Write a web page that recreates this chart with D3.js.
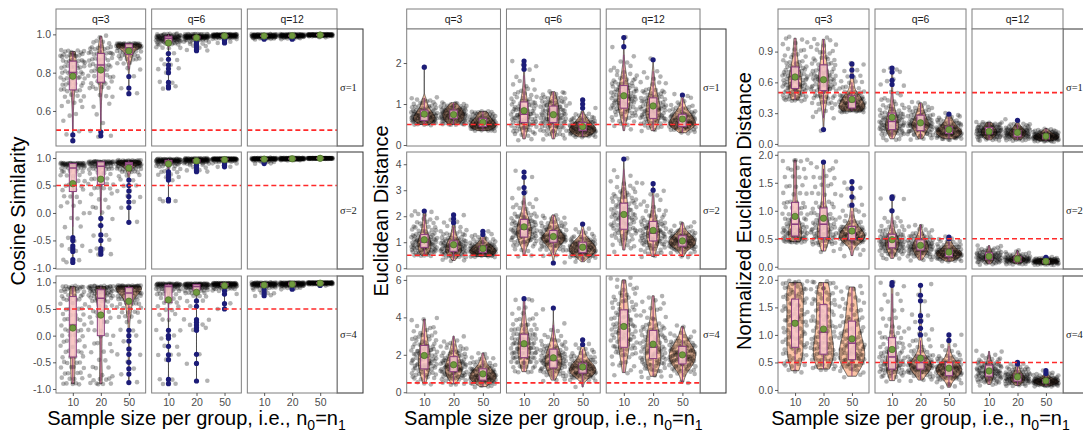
<!DOCTYPE html>
<html>
<head>
<meta charset="utf-8">
<script src="https://cdn.jsdelivr.net/npm/d3@7"></script>
<style>
  body { margin: 0; background: #fff; }
  svg { display: block; font-family: 'Liberation Sans', Arial, sans-serif; }
</style>
</head>
<body>
<script>
const width = 1083;
const height = 433;

const qLabels = ['q=3', 'q=6', 'q=12'];
const sigmaLabels = ['\u03c3=1', '\u03c3=2', '\u03c3=4'];
const nLabels = ['10', '20', '50'];
const refValue = 0.5;

// every cell is a list of (value, count) pairs:
// [v1, c1, v2, c2, ...]; each row: [q=3, q=6, q=12], each q: [n=10, n=20, n=50]
const cosineSigma1 = [
  [[0.91,8,0.89,10,0.86,10,0.83,9,0.8,8,0.77,8,0.74,7,0.71,6,0.68,4,0.65,3,0.62,2,0.58,2,0.55,1,0.5,1,0.475,1,0.445,1],
   [0.99,2,0.96,4,0.93,8,0.9,10,0.87,8,0.84,8,0.81,6,0.78,6,0.75,6,0.72,5,0.68,3,0.63,2,0.58,1,0.54,1,0.49,1,0.47,2],
   [0.95,20,0.94,15,0.93,12,0.91,8,0.89,6,0.87,5,0.85,3,0.82,2,0.78,1,0.72,1,0.69,1]],
  [[1.0,10,0.99,20,0.98,20,0.97,15,0.96,10,0.95,6,0.93,4,0.9,2,0.87,2,0.84,2,0.82,2,0.8,1,0.75,2,0.73,1,0.72,1],
   [1.0,15,0.99,30,0.985,20,0.98,15,0.97,8,0.96,5,0.95,2,0.94,2,0.93,1,0.92,1,0.915,1],
   [1.0,20,0.995,35,0.99,25,0.985,10,0.98,5,0.975,2,0.97,1,0.96,1,0.955,1]],
  [[1.0,15,0.995,30,0.99,30,0.985,15,0.98,6,0.975,2],
   [1.0,20,0.995,35,0.99,30,0.985,10,0.98,3,0.975,2],
   [1.0,30,0.997,40,0.994,20,0.99,8,0.985,2]]
];
const cosineSigma2 = [
  [[0.9,25,0.87,15,0.82,8,0.76,5,0.68,4,0.58,3,0.5,3,0.42,3,0.3,3,0.2,2,0.12,2,0,1,-0.1,2,-0.25,2,-0.45,1,-0.5,1,-0.6,2,-0.65,1,-0.7,1,-0.85,2,-0.9,2],
   [0.93,25,0.9,15,0.85,10,0.8,7,0.72,5,0.62,4,0.52,4,0.45,4,0.35,2,0.25,2,0.1,3,0,2,-0.1,1,-0.23,1,-0.4,2,-0.5,1,-0.65,2,-0.7,1,-0.75,2],
   [0.95,15,0.92,25,0.89,18,0.85,12,0.8,8,0.75,5,0.68,3,0.6,2,0.5,2,0.4,2,0.3,2,0.2,1,0.1,1,-0.17,1]],
  [[0.98,15,0.96,25,0.94,20,0.92,12,0.89,8,0.85,5,0.8,3,0.75,3,0.7,2,0.65,2,0.6,1,0.25,1,0.22,2],
   [0.99,20,0.97,30,0.95,22,0.93,12,0.9,6,0.87,3,0.83,2,0.78,2,0.75,1],
   [0.99,30,0.98,30,0.97,20,0.95,10,0.93,4,0.9,2,0.87,1,0.84,2]],
  [[1.0,15,0.99,30,0.98,30,0.97,12,0.95,6,0.93,3,0.9,2],
   [1.0,25,0.99,35,0.98,25,0.97,10,0.96,4],
   [1.0,35,0.995,35,0.99,20,0.985,8]]
];
const cosineSigma4 = [
  [[0.92,8,0.88,6,0.82,5,0.75,5,0.68,5,0.6,4,0.5,4,0.4,4,0.3,4,0.2,4,0.1,4,0,4,-0.1,4,-0.2,4,-0.3,4,-0.4,4,-0.5,4,-0.6,4,-0.7,4,-0.8,4,-0.9,5],
   [0.92,15,0.88,10,0.84,8,0.8,7,0.75,6,0.7,5,0.65,5,0.55,4,0.45,4,0.35,3,0.25,3,0.1,3,0,3,-0.15,3,-0.3,3,-0.45,2,-0.6,3,-0.75,3,-0.82,4,-0.9,5],
   [0.93,18,0.9,15,0.85,12,0.8,10,0.74,8,0.68,6,0.6,5,0.52,4,0.44,4,0.36,3,0.25,2,0.1,2,0,1,-0.1,1,-0.25,1,-0.35,2,-0.5,1,-0.62,1,-0.72,1,-0.88,1]],
  [[0.97,20,0.95,18,0.92,12,0.88,8,0.84,6,0.78,5,0.7,4,0.62,3,0.55,2,0.48,2,0.4,2,0.3,2,0.1,2,0,2,-0.05,1,-0.2,2,-0.36,3,-0.45,1,-0.82,2,-0.9,2],
   [0.97,25,0.95,20,0.92,15,0.89,10,0.85,7,0.8,5,0.74,3,0.65,2,0.55,2,0.3,2,0.25,1,0.2,2,0.15,1,0.1,1,-0.35,1,-0.52,1,-0.85,1],
   [0.98,30,0.96,28,0.94,18,0.91,10,0.88,6,0.84,3,0.78,2,0.6,1,0.5,1]],
  [[0.99,20,0.97,30,0.95,22,0.93,12,0.9,6,0.86,3,0.8,3,0.75,2],
   [0.99,30,0.97,32,0.95,20,0.93,10,0.9,5,0.87,2],
   [0.995,35,0.985,35,0.975,20,0.96,8,0.94,2]]
];

const euclidSigma1 = [
  [[0.5,5,0.55,10,0.6,12,0.65,12,0.7,12,0.75,10,0.8,8,0.85,7,0.9,5,0.95,4,1.0,3,1.05,3,1.1,3,1.15,2,1.9,1],
   [0.5,6,0.55,8,0.6,10,0.65,11,0.7,12,0.75,12,0.8,11,0.85,10,0.9,8,0.95,6,1.0,4,1.03,2],
   [0.35,5,0.4,12,0.45,15,0.5,15,0.55,13,0.6,11,0.65,9,0.7,7,0.75,6,0.8,5,0.82,2]],
  [[0.15,2,0.25,4,0.35,6,0.45,8,0.55,10,0.65,10,0.75,10,0.85,9,0.95,8,1.05,7,1.15,5,1.25,4,1.35,3,1.45,2,1.55,2,1.7,1,1.85,1,1.95,2,2.05,1],
   [0.15,2,0.25,5,0.35,7,0.45,9,0.55,11,0.65,12,0.75,12,0.85,11,0.95,10,1.05,9,1.15,7,1.25,4,1.3,2],
   [0.2,4,0.25,8,0.3,12,0.35,14,0.4,14,0.45,12,0.5,10,0.55,8,0.6,6,0.65,5,0.7,3,0.75,2,0.8,1,0.9,1,1.0,1,1.1,1]],
  [[0.35,1,0.5,3,0.6,4,0.7,6,0.8,7,0.9,9,1.0,10,1.1,10,1.2,10,1.3,9,1.4,8,1.5,7,1.6,5,1.7,4,1.8,3,1.9,2,2.0,2,2.2,1,2.4,1,2.62,1],
   [0.35,2,0.45,5,0.55,8,0.65,10,0.75,11,0.85,11,0.95,10,1.05,9,1.15,8,1.25,6,1.35,5,1.5,4,1.65,3,1.8,2,2.08,1],
   [0.3,3,0.38,8,0.45,14,0.52,16,0.6,15,0.68,12,0.75,9,0.82,7,0.9,5,0.98,3,1.05,2,1.15,1,1.22,2]]
];
const euclidSigma2 = [
  [[0.5,6,0.6,8,0.7,9,0.8,10,0.9,10,1.0,10,1.1,9,1.2,8,1.3,7,1.45,6,1.6,5,1.75,4,1.9,3,2.05,3,2.2,2],
   [0.3,3,0.45,7,0.55,10,0.65,12,0.75,12,0.85,11,0.95,10,1.05,9,1.15,7,1.3,6,1.45,4,1.6,3,1.75,2,1.9,1,2.05,1],
   [0.45,6,0.52,12,0.6,16,0.68,16,0.76,14,0.84,11,0.92,8,1.0,6,1.1,4,1.2,3,1.3,2,1.42,1]],
  [[0.5,2,0.7,3,0.9,6,1.05,9,1.2,11,1.35,12,1.5,12,1.65,10,1.8,9,1.95,7,2.1,5,2.3,4,2.5,3,2.7,2,2.9,1,3.1,1,3.5,1,3.7,1],
   [0.2,1,0.5,3,0.7,6,0.85,9,1.0,12,1.1,13,1.2,13,1.3,12,1.45,10,1.6,8,1.75,6,1.9,4,2.05,2],
   [0.25,2,0.4,6,0.5,10,0.6,13,0.7,14,0.8,14,0.9,12,1.0,10,1.1,7,1.2,5,1.35,3,1.5,2,1.7,1]],
  [[0.7,2,0.9,4,1.1,6,1.3,8,1.5,9,1.7,10,1.9,10,2.1,9,2.3,9,2.5,8,2.7,7,2.9,6,3.1,4,3.3,3,3.5,2,3.8,1,4.2,1],
   [0.45,2,0.6,4,0.75,6,0.9,8,1.05,10,1.2,11,1.35,11,1.5,10,1.65,9,1.8,7,2.0,6,2.2,4,2.4,3,2.6,2,2.8,2,3.0,1,3.25,1],
   [0.45,2,0.6,5,0.75,9,0.85,13,0.95,15,1.05,15,1.15,13,1.25,10,1.35,7,1.45,5,1.6,3,1.75,2]]
];
const euclidSigma4 = [
  [[0.5,3,0.75,5,1.0,8,1.25,10,1.5,11,1.75,11,2.0,10,2.25,9,2.5,8,2.75,6,3.0,5,3.25,4,3.5,3,3.9,3],
   [0.45,4,0.7,8,0.9,11,1.1,13,1.3,13,1.5,12,1.7,10,1.9,8,2.1,6,2.3,5,2.5,4,2.7,3,3.0,1],
   [0.3,4,0.5,10,0.65,14,0.8,15,0.95,14,1.1,12,1.25,9,1.4,7,1.6,5,1.8,4,2.1,2]],
  [[1.1,4,1.35,6,1.6,8,1.85,10,2.1,11,2.35,11,2.6,10,2.85,9,3.1,8,3.35,6,3.6,5,3.9,4,4.2,3,4.5,2,4.9,2,5.0,1],
   [0.65,3,0.9,6,1.1,8,1.3,10,1.5,12,1.7,12,1.9,11,2.1,10,2.3,8,2.5,6,2.75,5,3.0,3,3.3,2,3.6,1,4.5,1],
   [0.28,1,0.6,4,0.8,8,0.95,12,1.1,14,1.25,14,1.4,12,1.55,10,1.7,8,1.9,6,2.1,4,2.3,3,2.55,2,2.8,1]],
  [[1.05,3,1.5,5,2.0,8,2.4,10,2.8,11,3.2,11,3.6,10,4.0,9,4.4,8,4.8,7,5.2,6,5.6,5,6.0,4],
   [0.85,4,1.2,8,1.5,10,1.8,11,2.1,11,2.4,10,2.7,9,3.0,9,3.3,8,3.6,6,4.0,5,4.4,4,4.8,3,5.15,2],
   [0.55,2,0.9,4,1.2,8,1.45,12,1.7,15,1.95,16,2.2,15,2.45,12,2.7,8,2.95,5,3.2,3,3.5,2]]
];

const normSigma1 = [
  [[0.43,8,0.47,8,0.51,9,0.55,10,0.59,10,0.63,10,0.67,9,0.71,8,0.75,7,0.8,6,0.86,5,0.92,4,0.98,3,1.03,3],
   [0.14,1,0.25,2,0.33,4,0.4,7,0.46,9,0.52,10,0.57,11,0.62,10,0.67,9,0.72,8,0.77,7,0.83,6,0.9,5,0.96,4,1.02,3],
   [0.32,14,0.35,16,0.38,15,0.41,13,0.44,11,0.47,9,0.5,7,0.55,5,0.6,4,0.66,3,0.72,2,0.78,2]],
  [[0.05,4,0.1,10,0.14,14,0.18,15,0.22,14,0.26,11,0.3,8,0.34,6,0.38,4,0.42,3,0.46,2,0.5,2,0.58,2,0.62,2,0.7,2,0.74,2],
   [0.05,4,0.09,9,0.13,13,0.17,16,0.2,16,0.24,13,0.28,10,0.32,7,0.36,5,0.4,3],
   [0.05,8,0.08,16,0.11,20,0.14,18,0.17,13,0.2,9,0.23,6,0.26,4,0.29,2]],
  [[0.04,6,0.07,16,0.1,22,0.13,22,0.16,16,0.19,10,0.21,4],
   [0.04,8,0.07,18,0.1,24,0.13,20,0.16,12,0.19,6,0.23,2],
   [0.03,10,0.05,22,0.07,26,0.09,20,0.11,12,0.13,6,0.15,2]]
];
const normSigma2 = [
  [[0.45,10,0.5,9,0.55,8,0.6,8,0.65,7,0.7,6,0.76,6,0.85,6,0.95,6,1.05,5,1.15,5,1.3,4,1.45,4,1.6,4,1.75,4,1.9,5],
   [0.28,2,0.38,4,0.45,8,0.52,10,0.6,10,0.68,9,0.76,8,0.85,7,0.95,6,1.05,5,1.15,4,1.3,4,1.45,4,1.6,4,1.75,3,1.87,3],
   [0.2,2,0.32,4,0.42,9,0.48,14,0.54,16,0.6,14,0.66,11,0.72,8,0.8,6,0.9,4,1.0,3,1.1,2,1.25,2,1.4,2,1.52,1]],
  [[0.15,3,0.22,6,0.28,9,0.34,12,0.4,14,0.46,14,0.52,11,0.58,8,0.65,6,0.72,4,0.8,3,0.88,2,1.0,1,1.22,2,1.25,1],
   [0.12,3,0.18,7,0.24,11,0.3,15,0.36,16,0.42,13,0.48,10,0.54,7,0.6,4,0.66,3,0.72,2,0.75,1],
   [0.1,4,0.14,9,0.18,14,0.22,17,0.26,16,0.3,13,0.35,9,0.4,6,0.45,4,0.5,2,0.53,1]],
  [[0.05,4,0.09,10,0.13,14,0.17,15,0.21,13,0.25,10,0.29,6,0.33,4,0.38,2],
   [0.05,6,0.09,14,0.12,18,0.15,16,0.18,10,0.22,6,0.26,3,0.29,1],
   [0.04,8,0.07,16,0.09,20,0.11,18,0.13,12,0.15,6,0.17,2]]
];
const normSigma4 = [
  [[0.35,3,0.45,5,0.55,6,0.65,6,0.75,6,0.85,6,0.95,6,1.05,6,1.15,6,1.25,6,1.35,6,1.45,6,1.55,6,1.65,6,1.75,6,1.85,7,1.95,9],
   [0.38,4,0.45,6,0.55,8,0.65,8,0.75,8,0.85,7,0.95,6,1.05,6,1.15,5,1.25,5,1.35,5,1.45,5,1.55,5,1.65,5,1.75,5,1.85,5,1.95,6],
   [0.25,2,0.35,5,0.45,9,0.55,10,0.65,10,0.75,9,0.85,8,0.95,7,1.05,6,1.15,5,1.25,5,1.35,4,1.45,4,1.55,4,1.65,3,1.75,3,1.87,3]],
  [[0.17,2,0.25,5,0.32,8,0.38,10,0.45,10,0.52,9,0.6,8,0.68,7,0.76,6,0.85,5,0.95,5,1.05,4,1.15,3,1.3,3,1.45,3,1.6,2,1.75,2,1.9,2,1.95,2],
   [0.18,3,0.25,6,0.32,10,0.38,13,0.44,14,0.5,12,0.56,9,0.62,7,0.7,5,0.8,4,0.9,3,1.0,2,1.12,2,1.25,2,1.35,2,1.62,1,1.72,1,1.9,1],
   [0.05,2,0.12,4,0.2,8,0.26,12,0.32,16,0.38,17,0.44,14,0.5,10,0.56,6,0.62,4,0.7,3,0.8,2,0.9,1,1.0,1]],
  [[0.1,3,0.15,7,0.2,10,0.25,12,0.3,13,0.35,12,0.4,11,0.45,9,0.5,7,0.56,5,0.62,3,0.7,2],
   [0.08,4,0.12,9,0.16,13,0.2,15,0.24,14,0.28,11,0.32,8,0.37,6,0.42,4,0.47,2,0.5,1],
   [0.07,5,0.1,12,0.13,18,0.16,20,0.19,15,0.22,10,0.26,6,0.3,3,0.35,1]]
];

// tick labels and y ranges, one entry per sigma row
const cosineTicks = [[0.6, 0.8, 1.0], [-1, -0.5, 0, 0.5, 1], [-1, -0.5, 0, 0.5, 1]];
const euclidTicks = [[0, 1, 2], [0, 1, 2, 3, 4], [0, 2, 4, 6]];
const normTicks = [[0, 0.3, 0.6, 0.9], [0, 0.5, 1, 1.5, 2], [0, 0.5, 1, 1.5, 2]];
const cosineRange = [[0.417, 1.028], [-1.02, 1.11], [-1.075, 1.118]];
const euclidRange = [[-0.024, 2.83], [-0.03, 4.47], [-0.04, 6.21]];
const normRange = [[-0.02, 1.12], [-0.04, 2.05], [-0.055, 2.07]];

// layout
const rowTop = [29, 152, 276];
const rowH = 117;
const stripTop = 9;
const gap = 6;
const stripW = 26;
const jitterW = 0.45;

const charts = [
  { title: 'Cosine Similarity', rows: [cosineSigma1, cosineSigma2, cosineSigma4],
    ticks: cosineTicks, range: cosineRange, digits: 1, x0: 56, x1: 337, titleX: 25 },
  { title: 'Euclidean Distance', rows: [euclidSigma1, euclidSigma2, euclidSigma4],
    ticks: euclidTicks, range: euclidRange, digits: 0, x0: 406.7, x1: 700, titleX: 388 },
  { title: 'Normalized Euclidean Distance', rows: [normSigma1, normSigma2, normSigma4],
    ticks: normTicks, range: normRange, digits: 1, x0: 778, x1: 1063, titleX: 751 }
];

const col = {
  border: '#7f7f7f',
  violin: '#fcc4a4',
  violinLine: '#2b2b2b',
  box: '#f8c9cb',
  boxLine: '#8b3f7e',
  point: '#000',
  outlier: '#1c1c78',
  mean: '#6f9a3e',
  meanLine: '#4b6a28',
  ref: '#ff2a2a'
};

const svg = d3.select('body').append('svg').attr('width', width).attr('height', height);
svg.append('rect').attr('width', width).attr('height', height).attr('fill', '#fff');

function expand(pairs) {
  const vals = [];
  for (let i = 0; i < pairs.length; i += 2) {
    for (let k = 0; k < pairs[i + 1]; k++) vals.push(pairs[i]);
  }
  return vals.sort(d3.ascending);
}

function nrd0(x) {
  const sd = d3.deviation(x) || 0;
  const iqr = d3.quantileSorted(x, 0.75) - d3.quantileSorted(x, 0.25);
  let lo = Math.min(sd, iqr / 1.34);
  if (!(lo > 0)) lo = sd || Math.abs(x[0]) || 1;
  return 0.9 * lo * Math.pow(x.length, -0.2);
}

function summarize(pairs) {
  const vals = expand(pairs);
  const q1 = d3.quantileSorted(vals, 0.25);
  const med = d3.quantileSorted(vals, 0.5);
  const q3 = d3.quantileSorted(vals, 0.75);
  const iqr = q3 - q1;
  const inside = vals.filter(v => v >= q1 - 1.5 * iqr && v <= q3 + 1.5 * iqr);
  const lo = d3.min(inside);
  const hi = d3.max(inside);
  const outliers = Array.from(new Set(vals.filter(v => v < lo || v > hi)));
  const bw = nrd0(vals);
  const vmin = vals[0];
  const vmax = vals[vals.length - 1];
  const norm = 1 / (vals.length * bw * Math.sqrt(2 * Math.PI));
  const dens = d3.range(0, 129).map(i => {
    const y = vmin + (vmax - vmin) * i / 128;
    let s = 0;
    for (let j = 0; j < pairs.length; j += 2) {
      const z = (y - pairs[j]) / bw;
      s += pairs[j + 1] * Math.exp(-0.5 * z * z);
    }
    return [y, s * norm];
  });
  // jitter height like ggplot: 40% of the data resolution
  const uniq = Array.from(new Set(vals));
  const res = uniq.length > 1 ? d3.min(d3.pairs(uniq), p => p[1] - p[0]) : 0;
  return { vals, q1, med, q3, lo, hi, outliers, mean: d3.mean(vals), dens, jitterH: 0.4 * res };
}

function styleAxis(g) {
  g.select('.domain').remove();
  g.selectAll('.tick line').attr('stroke', '#333').attr('stroke-width', 0.8);
  g.selectAll('.tick text')
    .attr('fill', '#4d4d4d')
    .attr('font-size', 10.5)
    .attr('font-family', "'Liberation Sans', Arial, sans-serif");
}

// Halton low-discrepancy sequence for deterministic jitter offsets in [-1, 1]
function halton(k, base) {
  let f = 1, r = 0;
  while (k > 0) { f /= base; r += f * (k % base); k = Math.floor(k / base); }
  return r;
}
const jx = k => halton(k + 1, 2) * 2 - 1;
const jy = k => halton(k + 1, 3) * 2 - 1;

let clipId = 0;

charts.forEach(chart => {
  const colW = (chart.x1 - chart.x0 - 2 * gap) / 3;
  const colX = qLabels.map((q, i) => chart.x0 + i * (colW + gap));
  const x = d3.scalePoint().domain(nLabels).range([0, colW]).padding(0.6);
  const unit = x.step();
  const midY = (rowTop[0] + rowTop[2] + rowH) / 2;

  // y axis title
  svg.append('text')
    .attr('transform', `translate(${chart.titleX},${midY}) rotate(-90)`)
    .attr('text-anchor', 'middle')
    .attr('font-size', 20)
    .attr('fill', '#000')
    .text(chart.title);

  // x axis title with subscripts
  const xt = svg.append('text')
    .attr('x', (chart.x0 + chart.x1) / 2)
    .attr('y', 425)
    .attr('text-anchor', 'middle')
    .attr('font-size', 20)
    .attr('fill', '#000');
  xt.append('tspan').text('Sample size per group, i.e., n');
  xt.append('tspan').attr('dy', 5).attr('font-size', 14).text('0');
  xt.append('tspan').attr('dy', -5).text('=n');
  xt.append('tspan').attr('dy', 5).attr('font-size', 14).text('1');

  // top strips
  qLabels.forEach((q, c) => {
    svg.append('rect')
      .attr('x', colX[c]).attr('y', stripTop)
      .attr('width', colW).attr('height', rowTop[0] - stripTop)
      .attr('fill', '#fff').attr('stroke', col.border).attr('stroke-width', 1);
    svg.append('text')
      .attr('x', colX[c] + colW / 2).attr('y', (stripTop + rowTop[0]) / 2)
      .attr('dy', '0.35em').attr('text-anchor', 'middle')
      .attr('font-size', 10.4).attr('fill', '#1a1a1a')
      .text(q);
  });

  chart.rows.forEach((rowData, r) => {
    const y = d3.scaleLinear().domain(chart.range[r]).range([rowH, 0]);

    // right strip
    svg.append('rect')
      .attr('x', chart.x1).attr('y', rowTop[r])
      .attr('width', stripW).attr('height', rowH)
      .attr('fill', '#fff').attr('stroke', '#333').attr('stroke-width', 1);
    svg.append('text')
      .attr('x', chart.x1 + 3).attr('y', rowTop[r] + rowH / 2)
      .attr('dy', '0.35em').attr('text-anchor', 'start')
      .attr('font-size', 10.5).attr('font-family', "'Liberation Serif', 'DejaVu Serif', serif")
      .attr('fill', '#1a1a1a')
      .text(sigmaLabels[r]);

    rowData.forEach((cell, c) => {
      const g = svg.append('g').attr('transform', `translate(${colX[c]},${rowTop[r]})`);
      const id = `clip${clipId++}`;
      g.append('clipPath').attr('id', id)
        .append('rect').attr('width', colW).attr('height', rowH);
      g.append('rect').attr('width', colW).attr('height', rowH).attr('fill', '#fff');
      const body = g.append('g').attr('clip-path', `url(#${id})`);

      const stats = cell.map(summarize);
      const maxD = d3.max(stats, s => d3.max(s.dens, d => d[1]));

      // violins
      stats.forEach((s, i) => {
        const cx = x(nLabels[i]);
        const hw = d => 0.45 * unit * d[1] / maxD;
        body.append('path')
          .datum(s.dens)
          .attr('d', d3.area().y(d => y(d[0])).x0(d => cx - hw(d)).x1(d => cx + hw(d)))
          .attr('fill', col.violin)
          .attr('stroke', col.violinLine)
          .attr('stroke-width', 0.7);
      });

      // jittered raw points
      stats.forEach((s, i) => {
        const cx = x(nLabels[i]);
        const off = i * 101 + c * 17;
        body.append('g').selectAll('circle')
          .data(s.vals)
          .join('circle')
          .attr('cx', (v, k) => cx + jx(k + off) * jitterW * unit)
          .attr('cy', (v, k) => y(v + jy(k + off) * s.jitterH))
          .attr('r', 2.3)
          .attr('fill', col.point)
          .attr('fill-opacity', 0.3);
      });

      // boxplots
      stats.forEach((s, i) => {
        const cx = x(nLabels[i]);
        const bw = 0.25 * unit;
        const bg = body.append('g').attr('stroke', col.boxLine).attr('stroke-width', 1);
        bg.append('line').attr('x1', cx).attr('x2', cx).attr('y1', y(s.hi)).attr('y2', y(s.q3));
        bg.append('line').attr('x1', cx).attr('x2', cx).attr('y1', y(s.q1)).attr('y2', y(s.lo));
        bg.append('rect')
          .attr('x', cx - bw / 2).attr('width', bw)
          .attr('y', y(s.q3)).attr('height', Math.max(0.5, y(s.q1) - y(s.q3)))
          .attr('fill', col.box).attr('fill-opacity', 0.85);
        bg.append('line')
          .attr('x1', cx - bw / 2).attr('x2', cx + bw / 2)
          .attr('y1', y(s.med)).attr('y2', y(s.med))
          .attr('stroke-width', 1.6);
        bg.selectAll('circle')
          .data(s.outliers)
          .join('circle')
          .attr('cx', cx).attr('cy', v => y(v)).attr('r', 2.6)
          .attr('stroke', 'none').attr('fill', col.outlier);
      });

      // means
      stats.forEach((s, i) => {
        body.append('circle')
          .attr('cx', x(nLabels[i])).attr('cy', y(s.mean)).attr('r', 3.2)
          .attr('fill', col.mean).attr('stroke', col.meanLine).attr('stroke-width', 0.7);
      });

      // reference line
      body.append('line')
        .attr('x1', 0).attr('x2', colW)
        .attr('y1', y(refValue)).attr('y2', y(refValue))
        .attr('stroke', col.ref).attr('stroke-width', 1.6)
        .attr('stroke-dasharray', '5,3');

      g.append('rect').attr('width', colW).attr('height', rowH)
        .attr('fill', 'none').attr('stroke', col.border).attr('stroke-width', 1);

      if (c === 0) {
        g.append('g')
          .call(d3.axisLeft(y).tickValues(chart.ticks[r]).tickSize(3).tickPadding(2)
            .tickFormat(d => d.toFixed(chart.digits)))
          .call(styleAxis);
      }
      if (r === 2) {
        g.append('g')
          .attr('transform', `translate(0,${rowH})`)
          .call(d3.axisBottom(x).tickSize(3).tickPadding(3))
          .call(styleAxis);
      }
    });
  });
});
</script>
</body>
</html>
